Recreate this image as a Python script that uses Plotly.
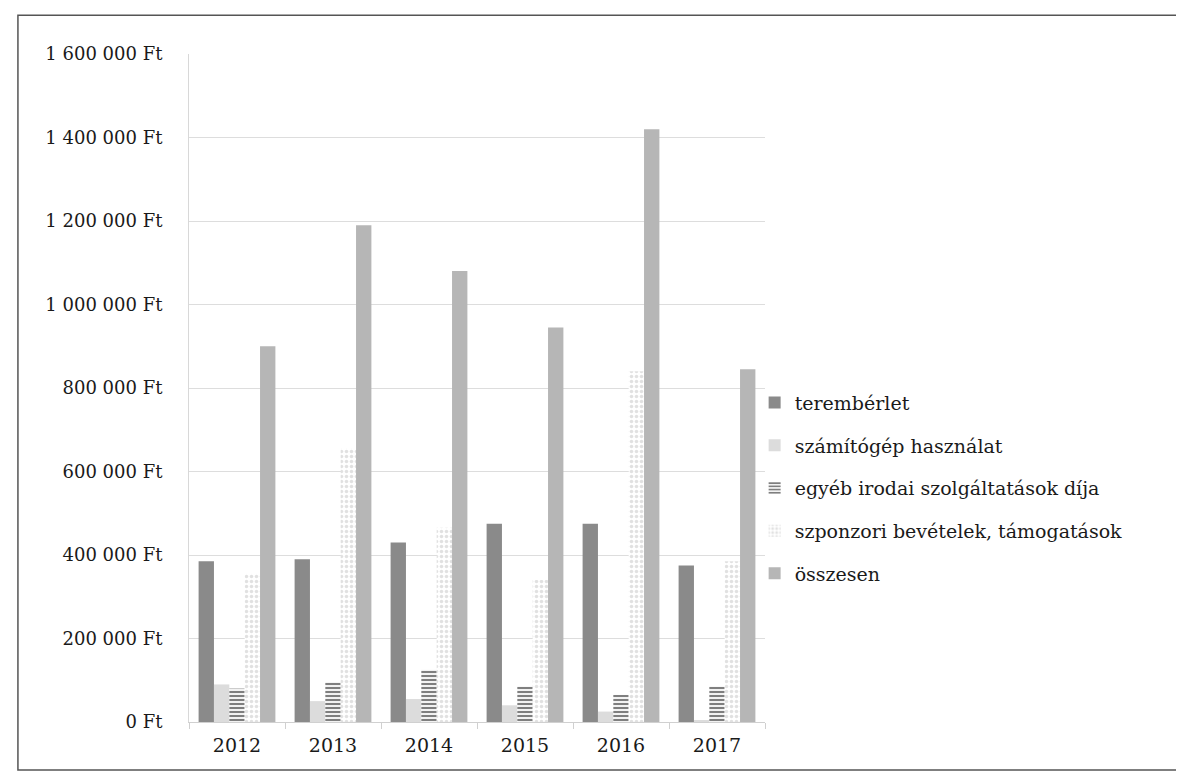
import plotly.graph_objects as go

years = ['2012', '2013', '2014', '2015', '2016', '2017']
teremberlet = [385000, 390000, 430000, 475000, 475000, 375000]
szamitogep = [90000, 50000, 55000, 40000, 25000, 3000]
egyeb = [80000, 95000, 125000, 85000, 65000, 85000]
szponzori = [355000, 655000, 465000, 340000, 840000, 385000]
osszesen = [900000, 1190000, 1080000, 945000, 1420000, 845000]

tick_values = [0, 200000, 400000, 600000, 800000, 1000000, 1200000, 1400000, 1600000]
tick_labels = ['0 Ft', '200 000 Ft', '400 000 Ft', '600 000 Ft', '800 000 Ft',
               '1 000 000 Ft', '1 200 000 Ft', '1 400 000 Ft', '1 600 000 Ft']

FONT = 'DejaVu Serif'
TXT = '#1a1a1a'

fig = go.Figure()
fig.add_trace(go.Bar(x=years, y=teremberlet, name='terembérlet',
                     marker=dict(color='#8a8a8a', line=dict(width=0)),
                     legendgroup='a'))
fig.add_trace(go.Bar(x=years, y=szamitogep, name='számítógép használat',
                     marker=dict(color='#dcdcdc', line=dict(width=0)),
                     legendgroup='b'))
fig.add_trace(go.Bar(x=years, y=egyeb, name='egyéb irodai szolgáltatások díja',
                     marker=dict(color='white', line=dict(width=0),
                                 pattern=dict(shape='-', fgcolor='#000000', bgcolor='white',
                                              size=4, solidity=0.55)),
                     legendgroup='c'))
fig.add_trace(go.Bar(x=years, y=szponzori, name='szponzori bevételek, támogatások',
                     marker=dict(color='white', line=dict(width=0),
                                 pattern=dict(shape='.', fgcolor='#c4c4c4', bgcolor='white',
                                              size=5, solidity=0.4)),
                     legendgroup='d'))
fig.add_trace(go.Bar(x=years, y=osszesen, name='összesen',
                     marker=dict(color='#b6b6b6', line=dict(width=0)),
                     legendgroup='e'))

fig.update_layout(
    width=1184, height=778,
    paper_bgcolor='white', plot_bgcolor='white',
    margin=dict(l=181, r=427, t=46, b=64),
    barmode='group', bargap=0.2, bargroupgap=0,
    font=dict(family=FONT, size=18, color=TXT),
    showlegend=True,
    legend=dict(x=0.982, xanchor='left', y=0.35, yanchor='middle',
                font=dict(family=FONT, size=19, color=TXT),
                tracegroupgap=15, itemwidth=30, bgcolor='rgba(0,0,0,0)'),
    xaxis=dict(type='category', showgrid=False, showline=True, linecolor='#d0d0d0',
               linewidth=1, ticks='outside', tickson='boundaries', ticklen=6,
               tickcolor='#d0d0d0', tickfont=dict(family=FONT, size=19, color=TXT),
               ticklabelstandoff=6),
    yaxis=dict(range=[0, 1600000], tickvals=tick_values, ticktext=tick_labels,
               showgrid=True, gridcolor='#dddddd', gridwidth=1, zeroline=False,
               showline=True, linecolor='#d8d8d8', linewidth=1,
               tickfont=dict(family=FONT, size=18, color=TXT),
               ticks='', ticklabelstandoff=22),
    shapes=[dict(type='rect', xref='paper', yref='paper',
                 x0=-0.297, x1=1.72, y0=-0.072, y1=1.058,
                 line=dict(color='#555555', width=1.5), fillcolor='rgba(0,0,0,0)',
                 layer='below')],
)

fig.write_html('out.html')
